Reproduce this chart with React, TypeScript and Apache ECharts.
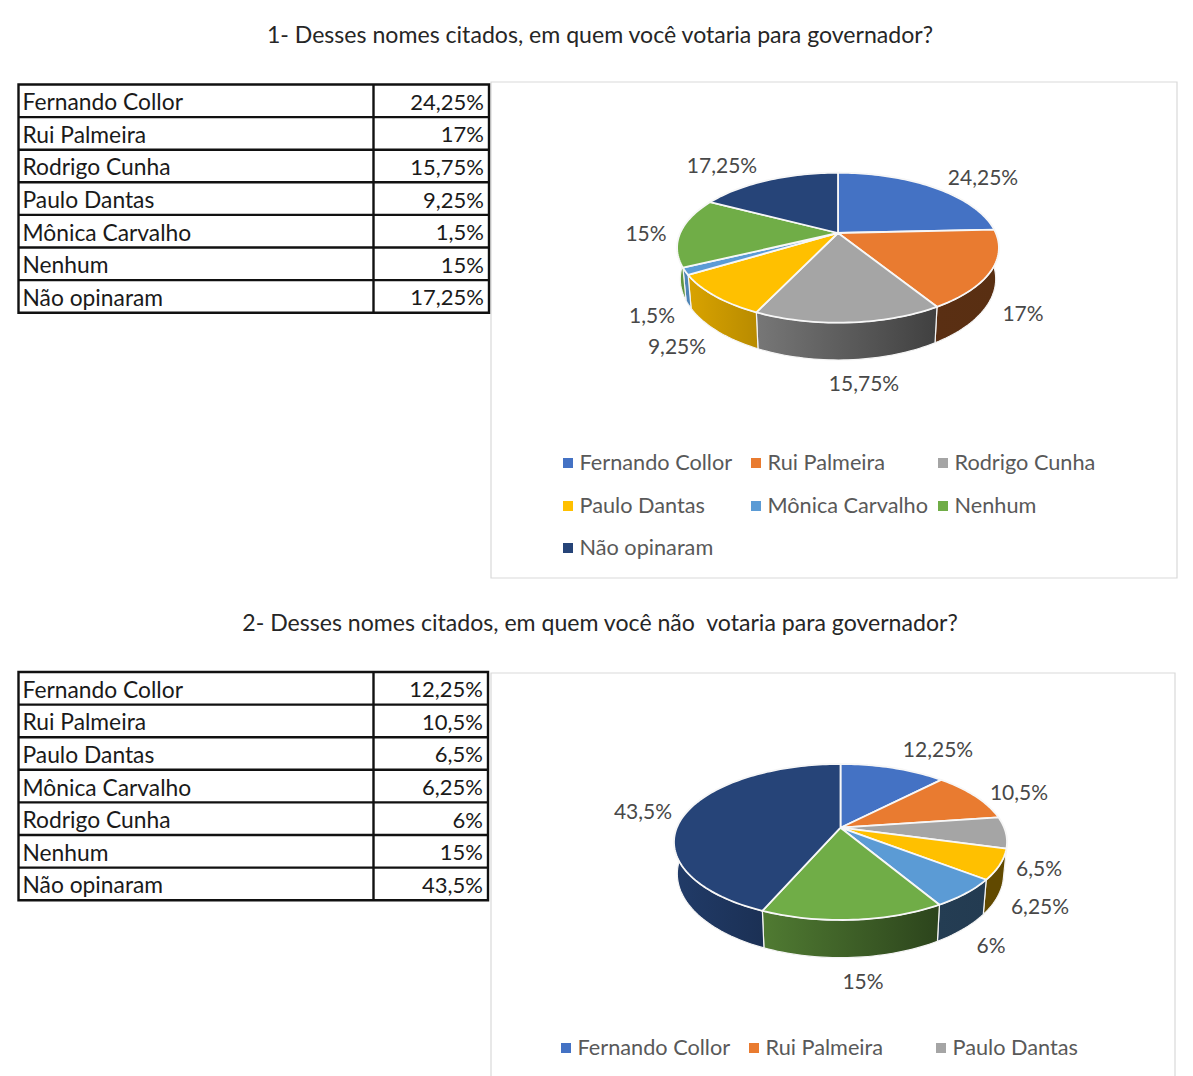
import React, { useEffect, useRef } from "react";
import * as echarts from "echarts";

const FONT = "Lato, Carlito, sans-serif";

const title1 = "1- Desses nomes citados, em quem você votaria para governador?";
const title2 = "2- Desses nomes citados, em quem você não  votaria para governador?";

const names1 = ["Fernando Collor", "Rui Palmeira", "Rodrigo Cunha", "Paulo Dantas", "Mônica Carvalho", "Nenhum", "Não opinaram"];
const values1 = [24.25, 17, 15.75, 9.25, 1.5, 15, 17.25];

const names2 = ["Fernando Collor", "Rui Palmeira", "Paulo Dantas", "Mônica Carvalho", "Rodrigo Cunha", "Nenhum", "Não opinaram"];
const values2 = [12.25, 10.5, 6.5, 6.25, 6, 15, 43.5];

const legend2Names = ["Fernando Collor", "Rui Palmeira", "Paulo Dantas"];

const colors = ["#4472C4", "#E97B30", "#A5A5A5", "#FFC000", "#5B9BD5", "#70AD47", "#264478"];

// Layout of the two discs: projected circle parameters
const disc1 = { cx: 838, cy: 233, r: 157.8, h: 72.1, p: 0.196, d: 30 };
const disc2 = { cx: 840.5, cy: 827.7, r: 163.7, h: 75.4, p: 0.183, d: 30.8 };
const labelPos1 = [[983, 176], [1023, 312], [864, 382], [677, 345], [652, 314], [646, 232], [722, 164]];
const labelPos2 = [[938, 748], [1019, 791], [1039, 867], [1040, 905], [991, 944], [863, 980], [643, 810]];

const fmt = (v: number) => String(v).replace(".", ",") + "%";

const shade = (hex: string, f: number) => {
  const n = parseInt(hex.slice(1), 16);
  const c = [(n >> 16) & 255, (n >> 8) & 255, n & 255].map((x) => Math.round(x * f));
  return `rgb(${c[0]},${c[1]},${c[2]})`;
};

type Disc = typeof disc1;

const topPoint = (D: Disc, a: number) => {
  const u = Math.sin(a), v = Math.cos(a), w = 1 + D.p * v;
  return [D.cx + (D.r * u) / w, D.cy - (D.h * v) / w];
};
const bottomPoint = (D: Disc, a: number) => {
  const u = Math.sin(a), v = Math.cos(a), w = 1 + D.p * v;
  return [D.cx + (0.98 * D.r * u) / w, D.cy - (D.h * v) / w + D.d / w];
};
const arc = (a0: number, a1: number) => {
  const n = Math.max(2, Math.ceil((a1 - a0) / (Math.PI / 120)));
  return Array.from({ length: n + 1 }, (_, i) => a0 + ((a1 - a0) * i) / n);
};
const range = (vals: number[], i: number) => {
  const total = vals.reduce((s, x) => s + x, 0);
  const before = vals.slice(0, i).reduce((s, x) => s + x, 0);
  return [(before / total) * 2 * Math.PI, ((before + vals[i]) / total) * 2 * Math.PI];
};
const sideFactor = (D: Disc, x: number) => {
  const rx = D.r / Math.sqrt(1 - D.p * D.p);
  const t = (x - (D.cx - rx)) / (2 * rx);
  return Math.max(0.38, 0.87 - 0.6 * t);
};

const sideSeries = (D: Disc, vals: number[]) => ({
  type: "custom",
  coordinateSystem: "none",
  silent: true,
  z: 2,
  data: vals,
  renderItem: (params: any) => {
    const [a0, a1] = range(vals, params.dataIndex);
    const as = arc(a0, a1);
    const tops = as.map((a) => topPoint(D, a));
    const bots = as.map((a) => bottomPoint(D, a)).reverse();
    const xs = tops.map((p) => p[0]);
    const x0 = Math.min(...xs), x1 = Math.max(...xs);
    const col = colors[params.dataIndex];
    return {
      type: "polygon",
      shape: { points: [...tops, ...bots] },
      style: {
        fill: new echarts.graphic.LinearGradient(0, 0, 1, 0, [
          { offset: 0, color: shade(col, sideFactor(D, x0)) },
          { offset: 1, color: shade(col, sideFactor(D, x1)) },
        ]),
        stroke: "#f4f4f4",
        lineWidth: 1.2,
      },
    };
  },
});

const topSeries = (D: Disc, vals: number[], labels: number[][]) => ({
  type: "custom",
  coordinateSystem: "none",
  silent: true,
  z: 3,
  data: vals,
  renderItem: (params: any) => {
    const i = params.dataIndex;
    const [a0, a1] = range(vals, i);
    const pts = arc(a0, a1).map((a) => topPoint(D, a));
    return {
      type: "group",
      children: [
        {
          type: "polygon",
          shape: { points: [[D.cx, D.cy], ...pts] },
          style: { fill: colors[i], stroke: "#f7f7f7", lineWidth: 1.8, lineJoin: "round" },
        },
        {
          type: "text",
          x: labels[i][0],
          y: labels[i][1],
          style: {
            text: fmt(vals[i]),
            font: `21px ${FONT}`,
            fill: "#484848",
            align: "center",
            verticalAlign: "middle",
            textAlign: "center",
            textVerticalAlign: "middle",
          },
        },
      ],
    };
  },
});

const txt = (text: string, x: number, y: number, size: number, fill: string, align = "left") => ({
  type: "text",
  x,
  y,
  z: 10,
  style: { text, font: `${size}px ${FONT}`, fill, align, verticalAlign: "middle", textAlign: align, textVerticalAlign: "middle" },
});

const table = (names: string[], vals: number[], left: number, mid: number, right: number, top: number, rowH: number) => {
  const out: any[] = [];
  const bottom = top + rowH * names.length;
  const line = (x1: number, y1: number, x2: number, y2: number) => ({
    type: "line",
    z: 9,
    shape: { x1, y1, x2, y2 },
    style: { stroke: "#111", lineWidth: 2.4 },
  });
  out.push({ type: "rect", z: 9, shape: { x: left, y: top, width: right - left, height: bottom - top }, style: { fill: "none", stroke: "#111", lineWidth: 2.4 } });
  out.push(line(mid, top, mid, bottom));
  names.forEach((n, i) => {
    if (i > 0) out.push(line(left, top + rowH * i, right, top + rowH * i));
    const y = top + rowH * (i + 0.5) + 0.4;
    out.push(txt(n, left + 4, y, 22.8, "#1a1a1a"));
    out.push(txt(fmt(vals[i]), right - 5, y, 22, "#1a1a1a", "right"));
  });
  return out;
};

const legend = (names: string[], cols: number[], rows: number[]) => {
  const out: any[] = [];
  names.forEach((n, i) => {
    const x = cols[i % 3], y = rows[Math.floor(i / 3)];
    out.push({ type: "rect", z: 10, shape: { x, y: y - 5, width: 10, height: 10 }, style: { fill: colors[i] } });
    out.push(txt(n, x + 16.5, y - 1, 21.7, "#595959"));
  });
  return out;
};

const frame = (x: number, y: number, w: number, h: number) => ({
  type: "rect",
  z: 1,
  shape: { x, y, width: w, height: h },
  style: { fill: "#fff", stroke: "#d9d9d9", lineWidth: 1.2 },
});

export default function App() {
  const ref = useRef<HTMLDivElement>(null);
  useEffect(() => {
    document.body.style.margin = "0";
    const chart = echarts.init(ref.current!, undefined, { renderer: "svg" });
    chart.setOption({
      animation: false,
      backgroundColor: "#fff",
      graphic: {
        elements: [
          frame(491, 82, 686, 496),
          frame(491, 673, 684, 420),
          txt(title1, 600, 34, 23.1, "#262626", "center"),
          txt(title2, 600, 622, 23.1, "#262626", "center"),
          ...table(names1, values1, 18.5, 373.5, 489, 84.5, 32.6),
          ...table(names2, values2, 18.5, 373.5, 488, 672, 32.6),
          ...legend(names1, [563, 751, 938], [463, 506, 548]),
          ...legend(legend2Names, [561, 749, 936], [1048]),
        ],
      },
      series: [
        sideSeries(disc1, values1),
        topSeries(disc1, values1, labelPos1),
        sideSeries(disc2, values2),
        topSeries(disc2, values2, labelPos2),
      ],
    });
    return () => chart.dispose();
  }, []);
  return <div ref={ref} style={{ position: "absolute", left: 0, top: 0, width: 1193, height: 1076 }} />;
}
